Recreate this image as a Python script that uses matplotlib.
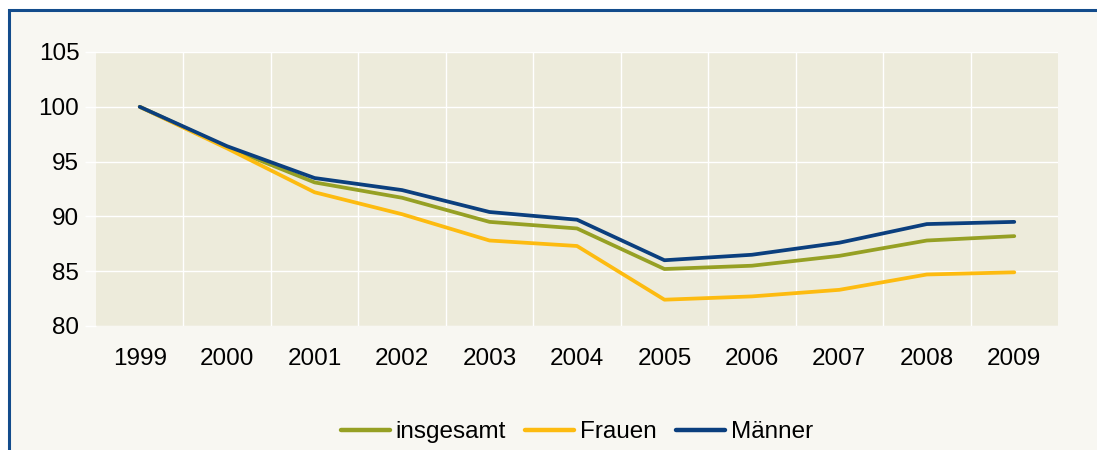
"""Index line chart: insgesamt / Frauen / Männer, 1999 = 100."""

import matplotlib

matplotlib.use("Agg")
import matplotlib.pyplot as plt
from matplotlib.patches import Rectangle

years = ["1999", "2000", "2001", "2002", "2003", "2004", "2005", "2006", "2007", "2008", "2009"]
insgesamt = [100, 96.3, 93.1, 91.7, 89.5, 88.9, 85.2, 85.5, 86.4, 87.8, 88.2]
frauen = [100, 96.2, 92.2, 90.2, 87.8, 87.3, 82.4, 82.7, 83.3, 84.7, 84.9]
maenner = [100, 96.4, 93.5, 92.4, 90.4, 89.7, 86.0, 86.5, 87.6, 89.3, 89.5]

series = [
    ("insgesamt", insgesamt, "#96A024"),
    ("Frauen", frauen, "#FDBB10"),
    ("Männer", maenner, "#0B3F7E"),
]

plt.rcParams["font.family"] = ["Liberation Sans", "DejaVu Sans"]

W, H = 1097, 450
fig = plt.figure(figsize=(W / 100, H / 100), dpi=100)
fig.patch.set_facecolor("white")

# outer frame (runs off the right and bottom edge)
frame = Rectangle((9 / W, -0.1), 1.2, 1 - 10 / H + 0.1,
                  transform=fig.transFigure, facecolor="#F8F7F2",
                  edgecolor="#134C8C", linewidth=2.2, zorder=-5)
fig.patches.append(frame)

ax = fig.add_axes([96 / W, 1 - 326 / H, 962 / W, 274 / H])
ax.set_zorder(1)
ax.set_facecolor("#EDEBDB")

x = list(range(len(years)))
for name, vals, color in series:
    ax.plot(x, vals, color=color, linewidth=2.7, label=name, solid_capstyle="round")

ax.set_xlim(-0.5, len(years) - 0.5)
ax.set_ylim(80, 105)
ax.set_yticks([80, 85, 90, 95, 100, 105])
ax.set_xticks(x)
ax.set_xticklabels(years)
ax.set_xticks([i + 0.5 for i in x[:-1]], minor=True)

ax.grid(True, which="major", axis="y", color="white", linewidth=1.0)
ax.grid(True, which="minor", axis="x", color="white", linewidth=1.0)
ax.set_axisbelow(True)
for s in ax.spines.values():
    s.set_visible(False)

ax.tick_params(axis="y", which="major", length=8, color="white", width=1.0,
               labelsize=17.5, pad=4)
ax.tick_params(axis="x", which="major", length=0, labelsize=17.5, pad=16)
ax.tick_params(axis="x", which="minor", length=0)

leg = fig.legend(loc="center", bbox_to_anchor=(577 / W, 1 - 432 / H), ncol=3, frameon=False,
                 fontsize=17.5, handlelength=2.0, handletextpad=0.25, columnspacing=0.8)
for line in leg.get_lines():
    line.set_linewidth(3.2)
leg.set_zorder(2)

fig.savefig("out.png", dpi=100, facecolor=fig.get_facecolor())
